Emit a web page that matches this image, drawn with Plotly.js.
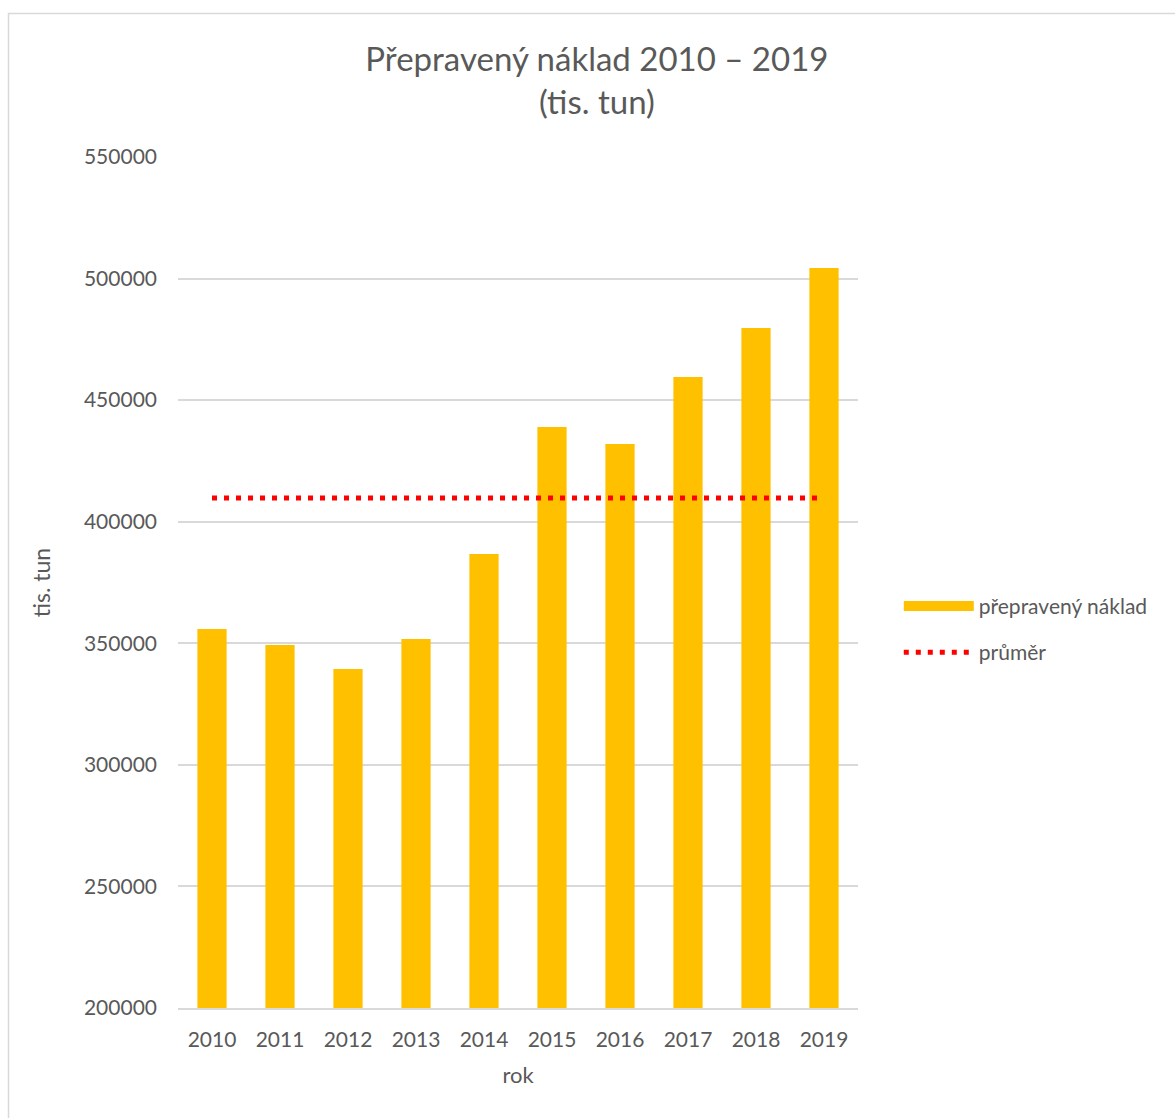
<!DOCTYPE html>
<html>
<head>
<meta charset="utf-8">
<script src="https://cdn.plot.ly/plotly-3.0.1.min.js"></script>
<style>
html,body{margin:0;padding:0;background:#fff;}
#chart{width:1175px;height:1118px;}
</style>
</head>
<body>
<div id="chart"></div>
<script>
const years = ["2010","2011","2012","2013","2014","2015","2016","2017","2018","2019"];
const naklad = [355900, 349300, 339400, 351800, 386700, 439000, 432000, 459500, 479700, 504300];
const prumerValue = 409760;
const prumer = years.map(() => prumerValue);
const yTicks = [200000, 250000, 300000, 350000, 400000, 450000, 500000, 550000];

const fontFam = "Lato, 'Open Sans', sans-serif";
const gray = "#595959";
const barColor = "#FFC000";

const traces = [
  {
    type: "bar",
    name: "přepravený náklad",
    x: years,
    y: naklad,
    marker: {color: barColor},
    showlegend: false,
    hoverinfo: "x+y"
  },
  {
    // legend-only entry so the swatch is a wide bar like the original
    type: "scatter",
    mode: "lines",
    name: "přepravený náklad",
    x: [null],
    y: [null],
    line: {color: barColor, width: 15},
    legendgroup: "a",
    hoverinfo: "skip"
  },
  {
    type: "scatter",
    mode: "lines",
    name: "průměr",
    x: years,
    y: prumer,
    line: {color: "#FF0000", width: 5, dash: "5px,7px"},
    legendgroup: "b"
  }
];

const layout = {
  width: 1175,
  height: 1118,
  paper_bgcolor: "#ffffff",
  plot_bgcolor: "#ffffff",
  margin: {l: 178, r: 317, t: 157, b: 110},
  font: {family: fontFam, color: gray, size: 20},
  title: {
    text: "Přepravený náklad 2010 – 2019<br>(tis. tun)",
    font: {family: fontFam, size: 33, color: gray},
    x: 0.508, xref: "container", xanchor: "center",
    y: 0.9365, yref: "container", yanchor: "top"
  },
  bargap: 0.57,
  xaxis: {
    type: "category",
    tickvals: years,
    ticktext: years,
    showgrid: false,
    showline: true,
    linecolor: "#d9d9d9",
    linewidth: 1.5,
    ticks: "outside",
    ticklen: 12,
    tickcolor: "rgba(0,0,0,0)",
    tickfont: {size: 21, color: gray, family: fontFam},
    title: {text: "rok", font: {size: 22, color: gray, family: fontFam}, standoff: 18}
  },
  yaxis: {
    range: [200000, 550000],
    tickvals: yTicks,
    ticktext: yTicks.map(String),
    showgrid: true,
    gridcolor: "#d9d9d9",
    gridwidth: 1.5,
    zeroline: false,
    showline: false,
    ticks: "",
    ticklabelstandoff: 20,
    tickfont: {size: 21, color: gray, family: fontFam},
    title: {text: "tis. tun", font: {size: 23, color: gray, family: fontFam}, standoff: 26}
  },
  legend: {
    x: 1.06, xanchor: "left",
    y: 0.445, yanchor: "middle",
    font: {size: 21, color: gray, family: fontFam},
    itemwidth: 70,
    traceorder: "grouped",
    tracegroupgap: 16,
    bgcolor: "rgba(0,0,0,0)"
  },
  shapes: [
    {
      type: "rect", xref: "paper", yref: "paper",
      x0: (8.5 - 178) / 680, x1: 1.6,
      y0: -0.3, y1: (1008 - 13.5) / 851,
      line: {color: "#d9d9d9", width: 1.5},
      fillcolor: "rgba(0,0,0,0)",
      layer: "below"
    }
  ],
  showlegend: true
};

Plotly.newPlot("chart", traces, layout, {displayModeBar: false, responsive: false});
</script>
</body>
</html>
